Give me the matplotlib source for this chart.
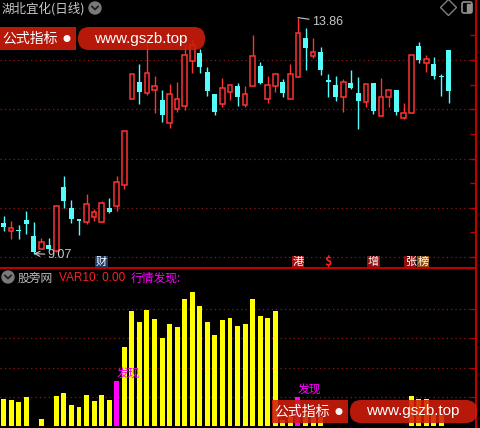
import matplotlib
matplotlib.use("Agg")
import matplotlib.pyplot as plt
from matplotlib.patches import FancyBboxPatch, Rectangle, Circle
import numpy as np

plt.rcParams['font.family'] = ['Noto Sans CJK SC', 'DejaVu Sans']

# daily candles (湖北宜化)
opens = [9.70, 9.53, 9.54, 9.75, 9.43, 9.16, 9.24, 9.12, 10.42, 10.00,
         9.77, 9.71, 9.81, 9.71, 10.00, 10.04, 10.46, 12.21, 12.55, 12.33,
         12.39, 12.19, 11.72, 12.00, 12.07, 12.98, 13.14, 12.76, 12.31, 12.11,
         12.35, 12.47, 12.09, 12.47, 12.88, 12.21, 12.47, 12.55, 12.21, 12.65,
         13.45, 13.08, 13.16, 12.59, 12.49, 12.25, 12.53, 12.33, 12.15, 12.53,
         11.86, 12.25, 12.39, 11.82, 11.92, 13.28, 12.94, 12.92, 12.67, 13.20]
highs = [9.83, 9.73, 9.65, 9.93, 9.71, 9.39, 9.39, 10.05, 10.64, 10.16,
         9.77, 10.28, 9.97, 10.14, 10.20, 10.64, 11.56, 12.72, 12.92, 13.35,
         12.68, 12.39, 12.51, 12.55, 13.30, 13.41, 13.22, 12.86, 12.31, 12.63,
         12.51, 12.53, 12.47, 13.51, 12.96, 12.68, 12.72, 12.61, 12.92, 13.86,
         13.65, 13.45, 13.26, 12.72, 12.68, 12.61, 12.80, 12.65, 12.51, 12.53,
         12.63, 12.39, 12.39, 12.13, 13.10, 13.37, 13.10, 13.06, 12.72, 13.20]
lows = [9.53, 9.37, 9.37, 9.47, 9.07, 9.16, 9.14, 9.10, 10.00, 9.69,
        9.45, 9.67, 9.73, 9.71, 9.89, 9.93, 10.38, 12.21, 12.11, 12.29,
        11.92, 11.74, 11.62, 11.94, 11.98, 12.74, 12.74, 12.27, 11.88, 12.05,
        12.19, 12.07, 12.05, 12.47, 12.51, 12.13, 12.35, 12.25, 12.21, 12.65,
        12.80, 13.04, 12.70, 12.25, 12.17, 11.94, 12.41, 11.60, 12.05, 11.90,
        11.86, 12.05, 11.88, 11.80, 11.92, 12.94, 12.76, 12.61, 12.27, 12.13]
closes = [9.61, 9.59, 9.52, 9.67, 9.10, 9.30, 9.16, 10.04, 10.14, 9.77,
          9.73, 10.08, 9.91, 10.10, 9.91, 10.52, 11.56, 12.72, 12.35, 12.74,
          12.47, 11.88, 12.31, 12.21, 13.10, 13.30, 12.86, 12.37, 11.94, 12.43,
          12.49, 12.25, 12.31, 13.08, 12.53, 12.49, 12.72, 12.33, 12.72, 13.55,
          13.24, 13.16, 12.80, 12.56, 12.25, 12.55, 12.43, 12.17, 12.51, 11.96,
          12.25, 12.39, 11.94, 11.92, 13.10, 13.00, 13.02, 12.68, 12.65, 12.37]

# 行情发现 indicator
signal = [18.5, 17.8, 16.4, 19.9, 0, 4.8, 0, 20.5, 22.6, 14.4,
          13.0, 21.2, 17.1, 21.2, 17.8, 30.8, 54.1, 78.8, 71.2, 79.5,
          73.3, 60.3, 69.9, 67.8, 87.0, 91.8, 82.2, 71.2, 62.3, 72.6,
          74.0, 68.5, 69.9, 87.0, 75.3, 74.0, 78.8, 4, 6, 20,
          8, 6, 6, 0, 0, 0, 0, 0, 0, 0,
          0, 0, 0, 0, 20.5, 18.5, 18.5, 8, 8, 0]
found_idx = [15, 39]

event_idx = [13, 39, 43, 49, 54, 54]
event_txt = ['财', '港', '$', '增', '张', '榜']
event_bg = ['#1c3c6c', '#a01010', 'none', '#8c1010', '#8c1010', '#8c5010']
event_shift = [0, 0, 0, 0, -1, 12]   # px, side by side labels

RED = '#ff3232'
CYAN = '#54fcfc'
GRID = '#8a1818'
AXRED = '#c00000'

W, H = 480, 428
fig = plt.figure(figsize=(4.8, 4.28), dpi=100, facecolor='black')

# ---- price panel ----
ax1 = fig.add_axes([0, (H - 268) / H, 476 / W, 268 / H], facecolor='black')
n = len(opens)
x = np.arange(n)
o = np.array(opens); c = np.array(closes)
up = c >= o
ax1.vlines(x[up], np.array(lows)[up], np.array(highs)[up], color=RED, lw=1, zorder=2)
ax1.vlines(x[~up], np.array(lows)[~up], np.array(highs)[~up], color=CYAN, lw=1, zorder=2)
bottom = np.minimum(o, c)
height = np.maximum(np.abs(c - o), 0.025)
ax1.bar(x[up], height[up], bottom=bottom[up], width=0.62, facecolor='black',
        edgecolor=RED, linewidth=1.1, zorder=3)
ax1.bar(x[~up], height[~up], bottom=bottom[~up], width=0.66, color=CYAN,
        linewidth=0, zorder=3)

ax1.set_xlim(-3.5 / 7.55, (476 - 3.5) / 7.55)
ax1.set_ylim(9 - 11 / 49.25, 13 + 60 / 49.25)
ax1.set_yticks([9, 10, 11, 12, 13])
ax1.set_yticks(np.arange(9.5, 14.1, 1.0), minor=True)
ax1.yaxis.tick_right()
ax1.tick_params(axis='y', which='both', direction='in', length=4, color=AXRED,
                labelright=False, width=1)
ax1.set_xticks([])
ax1.grid(axis='y', which='major', color=GRID, linestyle=(0, (1, 2.5)), lw=0.9)
for s in ['left', 'top']:
    ax1.spines[s].set_visible(False)
ax1.spines['right'].set_color(AXRED)
ax1.spines['right'].set_linewidth(1.5)
ax1.spines['bottom'].set_color(AXRED)
ax1.spines['bottom'].set_linewidth(1.5)

hi = int(np.argmax(highs)); lo = int(np.argmin(lows))
ax1.annotate(f'{highs[hi]:.2f}', xy=(hi, highs[hi]), xytext=(10, -3),
             textcoords='offset points', color='#c8c8c8', fontsize=9,
             family='Liberation Sans', va='center',
             arrowprops=dict(arrowstyle='-', color='#c8c8c8', lw=0.8,
                             shrinkA=0, shrinkB=0))
ax1.annotate(f'{lows[lo]:.2f}', xy=(lo, lows[lo]), xytext=(10, -1),
             textcoords='offset points', color='#c8c8c8', fontsize=9,
             family='Liberation Sans', va='center',
             arrowprops=dict(arrowstyle='->', color='#c8c8c8', lw=0.8,
                             shrinkA=0, shrinkB=0))

trans = ax1.get_xaxis_transform()
for i, t, bg, dx in zip(event_idx, event_txt, event_bg, event_shift):
    pt = dx * 72 / 100
    if bg == 'none':
        ax1.annotate(t, xy=(i, 0.024), xycoords=trans, xytext=(pt, 0),
                     textcoords='offset points', ha='center', va='center',
                     color='#ff2020', fontsize=9, fontweight='bold', zorder=5)
    else:
        ax1.annotate(t, xy=(i, 0.024), xycoords=trans, xytext=(pt, 0),
                     textcoords='offset points', ha='center', va='center',
                     color='white', fontsize=8, zorder=5,
                     bbox=dict(boxstyle='square,pad=0.06', fc=bg, ec='none'))

# ---- indicator panel ----
ax2 = fig.add_axes([0, 0, 476 / W, (H - 270) / H], facecolor='black')
cols = ['#ff00ff' if i in found_idx else '#ffff00' for i in range(n)]
ax2.bar(x, signal, width=0.66, color=cols, linewidth=0, zorder=3)
for i in found_idx:
    ax2.text(i, signal[i], '发现', color='#ff00ff', fontsize=8.5,
             ha='left', va='bottom', zorder=4)
ax2.set_xlim(-3.5 / 7.55, (476 - 3.5) / 7.55)
ax2.set_ylim(-2 / 1.46, 156 / 1.46)
ax2.set_yticks([20, 40, 60, 80])
ax2.yaxis.tick_right()
ax2.tick_params(axis='y', direction='in', length=4, color=AXRED, labelright=False)
ax2.set_xticks([])
ax2.grid(axis='y', color=GRID, linestyle=(0, (1, 2.5)), lw=0.9)
for s in ['left', 'top', 'bottom']:
    ax2.spines[s].set_visible(False)
ax2.spines['right'].set_color(AXRED)
ax2.spines['right'].set_linewidth(1.5)

# ---- overlay in pixel coordinates ----
ov = fig.add_axes([0, 0, 1, 1], facecolor='none', zorder=10)
ov.set_xlim(0, W); ov.set_ylim(H, 0); ov.axis('off')

ov.text(2, 9, '湖北宜化(日线)', color='#c8c8c8', fontsize=9, va='center')
ov.text(59, 278, 'VAR10: 0.00', color='#ff2020', fontsize=8.5, va='center',
        family='Liberation Sans')
ov.text(18, 278, '股旁网', color='#c0c0c0', fontsize=8.5, va='center')
ov.text(131, 278, '行情发现:', color='#ff00ff', fontsize=8.5, va='center')

for cx, cy in [(95, 8), (8, 277)]:
    ov.add_patch(Circle((cx, cy), 6, color='#7a7a7a'))
    ov.plot([cx - 3, cx, cx + 3], [cy - 1.5, cy + 1.5, cy - 1.5], color='#202020', lw=1.3)

ov.plot([448], [7], marker='D', ms=8, mfc='none', mec='#808080', mew=1)
ov.add_patch(FancyBboxPatch((462, 2), 10, 11, boxstyle='round,pad=0,rounding_size=2',
                            fc='none', ec='#909090', lw=1.2))
ov.add_patch(Rectangle((467, 3.5), 3.5, 8, color='#909090'))

BANNER = '#d01c0c'
for bx, by in [(0, 27), (272, 400)]:
    ov.add_patch(Rectangle((bx, by), 76, 23, color=BANNER, alpha=0.88, lw=0))
    ov.text(bx + 2, by + 11.5, '公式指标', color='white', fontsize=10, va='center')
    ov.add_patch(Circle((bx + 67, by + 11.5), 2.8, color='white', alpha=0.95))
    ov.add_patch(FancyBboxPatch((bx + 78, by), 127, 23,
                                boxstyle='round,pad=0,rounding_size=11',
                                fc=BANNER, ec='none', alpha=0.88))
    ov.text(bx + 141, by + 11.5, 'www.gszb.top', color='white', fontsize=11,
            ha='center', va='center', family='Liberation Sans')

fig.savefig('out.png', dpi=100, facecolor='black')
